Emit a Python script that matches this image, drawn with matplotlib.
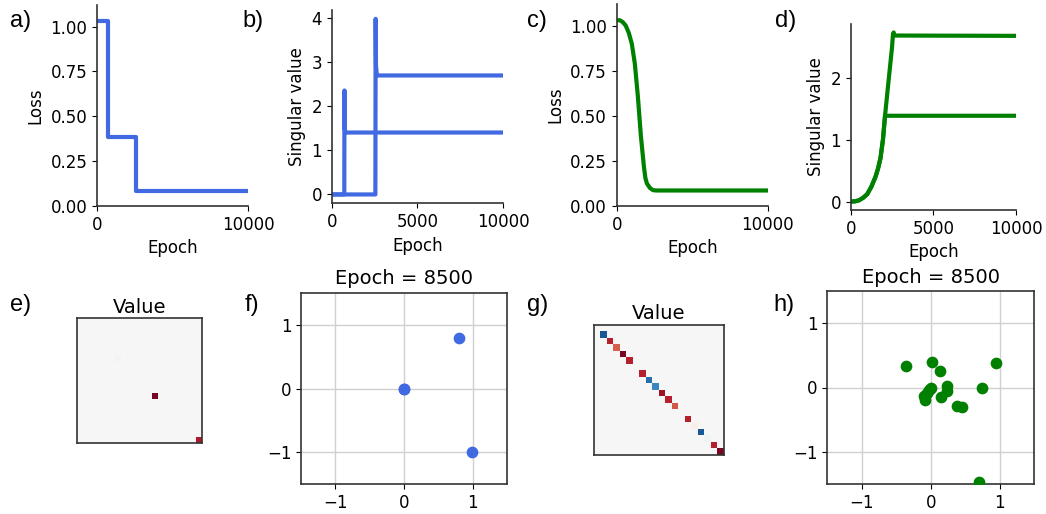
import numpy as np
import matplotlib
matplotlib.use("Agg")
import matplotlib.pyplot as plt

# ---- data ----
# a) loss, gradient flow run (blue)
a_epoch = [0, 720, 720, 2550, 2550, 10000]
a_loss = [1.03, 1.03, 0.385, 0.385, 0.086, 0.086]

# b) singular values, blue run
b_epoch1 = [0, 735, 745, 760, 800, 10000]
b_sv1 = [0.0, 0.0, 2.35, 1.5, 1.4, 1.4]
b_epoch2 = [0, 2550, 2565, 2585, 2640, 10000]
b_sv2 = [0.0, 0.0, 3.97, 2.9, 2.69, 2.69]

# c) loss, green run
c_epoch = [0, 200, 400, 600, 800, 1000, 1200, 1400, 1600, 1800, 1900, 2000, 2200, 2400, 2600, 10000]
c_loss = [1.03, 1.03, 1.02, 1.0, 0.96, 0.9, 0.79, 0.61, 0.39, 0.22, 0.155, 0.125, 0.1, 0.088, 0.086, 0.086]

# d) singular values, green run
d_epoch1 = [0, 250, 500, 750, 1000, 1250, 1500, 1650, 1800, 1950, 2080, 2150, 10000]
d_sv1 = [0.0, 0.003, 0.02, 0.06, 0.12, 0.24, 0.4, 0.53, 0.7, 1.0, 1.4, 1.39, 1.39]
d_epoch2 = [0, 250, 500, 750, 1000, 1250, 1500, 1650, 1800, 1950, 2080, 2300, 2500, 2560, 2600, 2650, 10000]
d_sv2 = [0.0, 0.003, 0.02, 0.06, 0.12, 0.24, 0.4, 0.53, 0.7, 1.0, 1.4, 1.98, 2.5, 2.72, 2.74, 2.69, 2.685]

# e), g) diagonal of the value matrix (20x20)
n_cells = 20
e_idx = [6, 12, 19]
e_val = [0.03, -0.95, -0.8]
g_idx = [1, 2, 3, 4, 5, 7, 8, 9, 10, 11, 12, 14, 15, 16, 17, 18, 19]
g_val = [0.85, -0.78, -0.6, -0.95, -0.78, -0.78, 0.75, 0.65, -0.85, -0.78, -0.62,
         -0.78, -0.05, 0.85, 0.04, -0.78, -0.95]

# f), h) embedding points at epoch 8500
f_x = [0.0, 0.0, 0.8, 0.98]
f_y = [0.0, 0.0, 0.79, -0.99]
h_x = [-0.36, 0.02, 0.13, 0.94, 0.0, -0.03, -0.06, -0.1, -0.09, 0.23, 0.23, 0.15, 0.74, 0.38, 0.45, 0.70]
h_y = [0.34, 0.39, 0.26, 0.38, 0.0, -0.04, -0.08, -0.13, -0.2, 0.03, -0.05, -0.15, 0.0, -0.28, -0.31, -1.47]

blue = "#4169e1"
green = "green"
spine_col = "#333333"

plt.rcParams["font.size"] = 12
plt.rcParams["axes.edgecolor"] = spine_col
plt.rcParams["axes.linewidth"] = 1.2

W, H = 1046, 514
fig = plt.figure(figsize=(W / 100, H / 100), dpi=100)


def px_axes(left, top, right, bottom):
    return fig.add_axes([left / W, 1 - bottom / H, (right - left) / W, (bottom - top) / H])


def curve_axes(ax, ylabel, xticks):
    ax.spines["top"].set_visible(False)
    ax.spines["right"].set_visible(False)
    ax.set_xlim(0, 10000)
    ax.set_xticks(xticks)
    ax.set_xlabel("Epoch")
    ax.set_ylabel(ylabel)


# top row
ax_a = px_axes(97, 5, 248, 206)
ax_a.plot(a_epoch, a_loss, color=blue, lw=3)
ax_a.set_ylim(0, 1.12)
ax_a.set_yticks([0, 0.25, 0.5, 0.75, 1.0])
curve_axes(ax_a, "Loss", [0, 10000])

ax_b = px_axes(331.7, 10, 503, 203.3)
ax_b.plot(b_epoch1, b_sv1, color=blue, lw=3)
ax_b.plot(b_epoch2, b_sv2, color=blue, lw=3)
ax_b.set_ylim(-0.2, 4.17)
ax_b.set_yticks([0, 1, 2, 3, 4])
curve_axes(ax_b, "Singular value", [0, 5000, 10000])

ax_c = px_axes(616.7, 4, 767.7, 206)
ax_c.plot(c_epoch, c_loss, color=green, lw=3)
ax_c.set_ylim(0, 1.12)
ax_c.set_yticks([0, 0.25, 0.5, 0.75, 1.0])
curve_axes(ax_c, "Loss", [0, 10000])

ax_d = px_axes(850.7, 24, 1016, 210)
ax_d.plot(d_epoch1, d_sv1, color=green, lw=3)
ax_d.plot(d_epoch2, d_sv2, color=green, lw=3)
ax_d.set_ylim(-0.137, 2.877)
ax_d.set_yticks([0, 1, 2])
curve_axes(ax_d, "Singular value", [0, 5000, 10000])


# bottom row: value matrices
def value_panel(ax, idx, vals):
    mat = np.zeros((n_cells, n_cells))
    mat[idx, idx] = vals
    ax.imshow(mat, cmap="RdBu", vmin=-1, vmax=1, interpolation="nearest", aspect="auto")
    ax.set_xticks([])
    ax.set_yticks([])
    ax.set_title("Value", fontsize=14, pad=4)


ax_e = px_axes(76.7, 318.3, 201.7, 443.3)
value_panel(ax_e, e_idx, e_val)
ax_g = px_axes(594, 325, 724, 455)
value_panel(ax_g, g_idx, g_val)


# bottom row: embeddings
def scatter_panel(ax, xs, ys, col):
    ax.scatter(xs, ys, s=55, color=col, zorder=3, clip_on=True)
    ax.set_xlim(-1.5, 1.5)
    ax.set_ylim(-1.5, 1.5)
    ax.set_xticks([-1, 0, 1])
    ax.set_yticks([-1, 0, 1])
    ax.grid(True, color="#d0d0d0", lw=1)
    ax.set_axisbelow(True)
    ax.set_title("Epoch = 8500", fontsize=14, pad=6)


ax_f = px_axes(301, 292.7, 507.3, 484.3)
scatter_panel(ax_f, f_x, f_y, blue)
ax_h = px_axes(827.3, 291, 1034.3, 484)
scatter_panel(ax_h, h_x, h_y, green)

# panel letters
letters = ["a)", "b)", "c)", "d)", "e)", "f)", "g)", "h)"]
letter_xy = [(10, 21), (242, 21), (527, 21), (775, 21), (10, 305), (245, 305), (527, 305), (773, 305)]
for lab, (x, y) in zip(letters, letter_xy):
    fig.text(x / W, 1 - y / H, lab, fontsize=17, family="Liberation Sans", ha="left", va="center")

fig.savefig("out.png", dpi=100)
